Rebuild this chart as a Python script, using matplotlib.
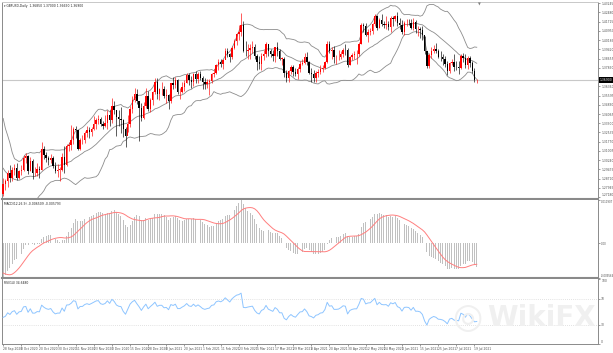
import numpy as np
import pandas as pd
import matplotlib
matplotlib.use('Agg')
import matplotlib.pyplot as plt
import matplotlib.transforms as mtransforms

# GBPUSD daily
# closes before the first visible bar (needed by the indicators only)
warmup_close = [1.3055, 1.3045, 1.3050, 1.3100, 1.3085, 1.3120, 1.3240, 1.3090, 1.3220, 1.3090,
                1.3085, 1.3125, 1.3215, 1.3240, 1.3350, 1.3370, 1.3415, 1.3285, 1.3260, 1.3275,
                1.3165, 1.2975, 1.2995, 1.2795, 1.2795, 1.2850, 1.2900, 1.2955, 1.2960, 1.2920,
                1.2815, 1.2730, 1.2725, 1.2750, 1.2745]

# visible bars: 28 Sep 2020 .. 20 Jul 2021
close = [1.2830, 1.2850, 1.2920, 1.2880, 1.2940, 1.2960, 1.2880, 1.2930, 1.2940, 1.3045,
         1.3055, 1.2935, 1.3020, 1.2915, 1.2915, 1.2950, 1.2945, 1.3115, 1.3070, 1.3040,
         1.3025, 1.3045, 1.2975, 1.2930, 1.2945, 1.2945, 1.3050, 1.2985, 1.3145, 1.3150,
         1.3195, 1.3280, 1.3270, 1.3120, 1.3190, 1.3190, 1.3245, 1.3270, 1.3255, 1.3285,
         1.3320, 1.3355, 1.3365, 1.3320, 1.3310, 1.3330, 1.3395, 1.3360, 1.3470, 1.3440,
         1.3385, 1.3365, 1.3360, 1.3280, 1.3225, 1.3320, 1.3450, 1.3525, 1.3575, 1.3515,
         1.3455, 1.3375, 1.3470, 1.3555, 1.3450, 1.3520, 1.3585, 1.3670,
         1.3575, 1.3610, 1.3610, 1.3555, 1.3565, 1.3515, 1.3665, 1.3645, 1.3685, 1.3590,
         1.3590, 1.3630, 1.3665, 1.3730, 1.3685, 1.3675, 1.3735, 1.3695, 1.3735, 1.3705,
         1.3670, 1.3655, 1.3670, 1.3680, 1.3735, 1.3745, 1.3815, 1.3835, 1.3825, 1.3855,
         1.3925, 1.3900, 1.3875, 1.3955, 1.4015, 1.4070, 1.4090, 1.4145, 1.3930, 1.3925,
         1.3940, 1.3950, 1.3960, 1.3890, 1.3840, 1.3820, 1.3885, 1.3905, 1.3990, 1.3925,
         1.3905, 1.3885, 1.3960, 1.3930, 1.3865, 1.3865, 1.3745, 1.3705, 1.3760, 1.3795,
         1.3755, 1.3735, 1.3780, 1.3825, 1.3830, 1.3880, 1.3835, 1.3750, 1.3735, 1.3705,
         1.3745, 1.3755, 1.3780, 1.3785, 1.3835, 1.3985, 1.3925, 1.3935, 1.3875, 1.3875,
         1.3880, 1.3905, 1.3940, 1.3935, 1.3815, 1.3875, 1.3895, 1.3905, 1.3905, 1.3990,
         1.4145, 1.4135, 1.4065, 1.4090, 1.4095, 1.4150, 1.4215, 1.4120, 1.4185, 1.4150,
         1.4145, 1.4150, 1.4125, 1.4205, 1.4190, 1.4220, 1.4160, 1.4145, 1.4090, 1.4160,
         1.4165, 1.4160, 1.4120, 1.4170, 1.4110, 1.4110, 1.4100, 1.4060, 1.3925, 1.3805,
         1.3895, 1.3925, 1.3945, 1.3925, 1.3880, 1.3875, 1.3860, 1.3825, 1.3765, 1.3830,
         1.3840, 1.3800, 1.3795, 1.3785, 1.3890, 1.3870, 1.3815, 1.3870, 1.3830, 1.3760,
         1.3685, 1.3690]

high = [1.2875, 1.2870, 1.2945, 1.2980, 1.2965, 1.2990, 1.3000, 1.2945, 1.2985, 1.3065,
        1.3080, 1.3070, 1.3050, 1.3030, 1.2965, 1.3000, 1.2975, 1.3175, 1.3140, 1.3095,
        1.3060, 1.3075, 1.3060, 1.3005, 1.2990, 1.2965, 1.3085, 1.3140, 1.3160, 1.3175,
        1.3315, 1.3295, 1.3310, 1.3270, 1.3205, 1.3230, 1.3265, 1.3310, 1.3295, 1.3295,
        1.3390, 1.3375, 1.3395, 1.3380, 1.3350, 1.3395, 1.3440, 1.3440, 1.3540, 1.3515,
        1.3430, 1.3440, 1.3465, 1.3365, 1.3300, 1.3395, 1.3470, 1.3555, 1.3625, 1.3610,
        1.3515, 1.3495, 1.3505, 1.3625, 1.3595, 1.3540, 1.3600, 1.3705,
        1.3705, 1.3625, 1.3670, 1.3640, 1.3615, 1.3575, 1.3665, 1.3710, 1.3710, 1.3695,
        1.3620, 1.3670, 1.3690, 1.3745, 1.3745, 1.3720, 1.3745, 1.3760, 1.3755, 1.3760,
        1.3720, 1.3705, 1.3695, 1.3700, 1.3750, 1.3780, 1.3825, 1.3865, 1.3865, 1.3865,
        1.3955, 1.3950, 1.3915, 1.3970, 1.4030, 1.4080, 1.4145, 1.4240, 1.4180, 1.4015,
        1.3990, 1.3990, 1.4010, 1.3985, 1.3905, 1.3885, 1.3915, 1.3935, 1.4000, 1.3990,
        1.3945, 1.3935, 1.3965, 1.4005, 1.3945, 1.3875, 1.3880, 1.3770, 1.3775, 1.3810,
        1.3815, 1.3790, 1.3800, 1.3850, 1.3860, 1.3910, 1.3920, 1.3850, 1.3790, 1.3770,
        1.3765, 1.3780, 1.3810, 1.3815, 1.3845, 1.4010, 1.4010, 1.3960, 1.3970, 1.3895,
        1.3935, 1.3925, 1.3955, 1.3985, 1.3950, 1.3890, 1.3915, 1.3925, 1.3935, 1.4005,
        1.4165, 1.4165, 1.4160, 1.4110, 1.4120, 1.4160, 1.4235, 1.4230, 1.4200, 1.4235,
        1.4175, 1.4215, 1.4175, 1.4215, 1.4220, 1.4225, 1.4250, 1.4200, 1.4185, 1.4175,
        1.4190, 1.4195, 1.4190, 1.4200, 1.4185, 1.4135, 1.4130, 1.4140, 1.4055, 1.3925,
        1.3915, 1.3960, 1.3975, 1.3995, 1.3945, 1.3925, 1.3905, 1.3885, 1.3850, 1.3840,
        1.3860, 1.3900, 1.3850, 1.3850, 1.3900, 1.3910, 1.3900, 1.3885, 1.3885, 1.3845,
        1.3785, 1.3700]

low = [1.2730, 1.2780, 1.2805, 1.2845, 1.2850, 1.2905, 1.2860, 1.2865, 1.2905, 1.2935,
       1.3000, 1.2910, 1.2935, 1.2865, 1.2890, 1.2895, 1.2875, 1.2940, 1.3035, 1.3005,
       1.2985, 1.3000, 1.2960, 1.2915, 1.2885, 1.2855, 1.2935, 1.2915, 1.2975, 1.3100,
       1.3110, 1.3160, 1.3205, 1.3110, 1.3105, 1.3155, 1.3165, 1.3215, 1.3205, 1.3225,
       1.3270, 1.3285, 1.3320, 1.3305, 1.3285, 1.3300, 1.3285, 1.3310, 1.3330, 1.3405,
       1.3225, 1.3305, 1.3250, 1.3220, 1.3135, 1.3260, 1.3300, 1.3415, 1.3505, 1.3490,
       1.3185, 1.3345, 1.3365, 1.3455, 1.3430, 1.3420, 1.3485, 1.3570,
       1.3530, 1.3520, 1.3565, 1.3540, 1.3500, 1.3450, 1.3500, 1.3615, 1.3620, 1.3575,
       1.3535, 1.3580, 1.3600, 1.3665, 1.3650, 1.3625, 1.3640, 1.3660, 1.3665, 1.3690,
       1.3610, 1.3610, 1.3620, 1.3565, 1.3660, 1.3710, 1.3735, 1.3775, 1.3800, 1.3780,
       1.3860, 1.3880, 1.3835, 1.3860, 1.3945, 1.3980, 1.4020, 1.4050, 1.3920, 1.3890,
       1.3860, 1.3860, 1.3910, 1.3860, 1.3775, 1.3780, 1.3775, 1.3855, 1.3880, 1.3885,
       1.3880, 1.3850, 1.3835, 1.3890, 1.3855, 1.3810, 1.3715, 1.3670, 1.3670, 1.3735,
       1.3720, 1.3720, 1.3700, 1.3755, 1.3810, 1.3825, 1.3810, 1.3740, 1.3670, 1.3670,
       1.3670, 1.3715, 1.3740, 1.3755, 1.3780, 1.3830, 1.3910, 1.3865, 1.3830, 1.3820,
       1.3855, 1.3860, 1.3880, 1.3895, 1.3800, 1.3815, 1.3855, 1.3860, 1.3825, 1.3890,
       1.3985, 1.4085, 1.4050, 1.4000, 1.4060, 1.4070, 1.4135, 1.4100, 1.4120, 1.4135,
       1.4120, 1.4110, 1.4100, 1.4090, 1.4135, 1.4175, 1.4140, 1.4110, 1.4070, 1.4065,
       1.4140, 1.4145, 1.4115, 1.4105, 1.4075, 1.4055, 1.4040, 1.4020, 1.3905, 1.3790,
       1.3790, 1.3870, 1.3915, 1.3910, 1.3870, 1.3850, 1.3810, 1.3795, 1.3730, 1.3750,
       1.3815, 1.3760, 1.3770, 1.3735, 1.3780, 1.3840, 1.3785, 1.3780, 1.3800, 1.3750,
       1.3670, 1.3665]

price_ticks = [1.27180, 1.27945, 1.28710, 1.29475, 1.30240, 1.31005, 1.31770, 1.32535,
               1.33300, 1.34065, 1.34830, 1.35595, 1.36360, 1.37125, 1.37890, 1.38655,
               1.39420, 1.40185, 1.40950, 1.41715, 1.42480, 1.43245]
rsi_ticks = [100, 70, 30, 0]

# trading days (broker has no bars on 25 Dec and 1 Jan)
dates = pd.bdate_range('2020-09-28', '2021-07-20')
dates = dates[~dates.isin(pd.to_datetime(['2020-12-25', '2021-01-01']))]
date_labels = [f"{d.day} {d.strftime('%b %Y')}" for d in dates[::8]]

# indicators on the whole series, then keep the visible part
n_warm = len(warmup_close)
s = pd.Series(warmup_close + close)
mid = s.rolling(20).mean()
sd = s.rolling(20).std(ddof=0)
upper = mid + 2 * sd
lower = mid - 2 * sd
macd = s.ewm(span=12, adjust=False).mean() - s.ewm(span=26, adjust=False).mean()
signal = macd.rolling(9).mean()
delta = s.diff()
gain = delta.clip(lower=0).ewm(alpha=1 / 14, adjust=False).mean()
loss = (-delta.clip(upper=0)).ewm(alpha=1 / 14, adjust=False).mean()
rsi = 100 - 100 / (1 + gain / loss)

mid, upper, lower = mid[n_warm:].values, upper[n_warm:].values, lower[n_warm:].values
macd, signal, rsi = macd[n_warm:].values, signal[n_warm:].values, rsi[n_warm:].values

c = np.array(close)
o = np.array([warmup_close[-1]] + close[:-1])
h = np.array(high)
l = np.array(low)
x = np.arange(len(c))
up = c >= o

fig = plt.figure(figsize=(6.13, 3.53), dpi=100)
fig.patch.set_facecolor('white')
W, H = 613.0, 353.0
ax1 = fig.add_axes([2 / W, 1 - 199 / H, 596 / W, 197 / H])
ax2 = fig.add_axes([2 / W, 1 - 278 / H, 596 / W, 78 / H])
ax3 = fig.add_axes([2 / W, 1 - 344 / H, 596 / W, 65 / H])

xmin, xmax = -0.5, 262.5
fs = 2.2
for ax in (ax1, ax2, ax3):
    ax.set_xlim(xmin, xmax)
    ax.yaxis.tick_right()
    ax.tick_params(axis='y', labelsize=fs, length=1.5, width=0.4, pad=0.8, colors='#505050')
    ax.tick_params(axis='x', length=0)
    ax.set_xticks([])
    for sp in ax.spines.values():
        sp.set_color('#8a8a8a')
        sp.set_linewidth(0.7)
ax1.spines['bottom'].set_linewidth(1.5)
ax2.spines['bottom'].set_linewidth(1.5)
ax2.spines['top'].set_visible(False)
ax3.spines['top'].set_visible(False)
ax1.spines['top'].set_color('#c8c8c8')

# --- price panel ---
ax1.set_ylim(1.2702, 1.4335)
ax1.set_yticks(price_ticks)
ax1.set_yticklabels([f"{v:.5f}" for v in price_ticks])
ax1.get_yticklabels()[0].set_va('bottom')
# the current-price box sits on top of the nearest scale label
near = int(np.argmin(np.abs(np.array(price_ticks) - c[-1])))
ax1.get_yticklabels()[near].set_visible(False)
ax1.axhline(c[-1], color='#c8c8c8', lw=0.8, zorder=1)
ax1.plot(x, upper, color='#8c8c8c', lw=0.6, zorder=2)
ax1.plot(x, mid, color='#8c8c8c', lw=0.6, zorder=2)
ax1.plot(x, lower, color='#8c8c8c', lw=0.6, zorder=2)
col = np.where(up, '#ff0000', '#000000')
ax1.vlines(x, l, h, colors=col, lw=0.45, zorder=3)
body = np.maximum(np.abs(c - o), 0.0002)
ax1.bar(x, body, bottom=np.minimum(o, c), width=0.62, color=col, linewidth=0, zorder=4)
trans = mtransforms.blended_transform_factory(ax1.transAxes, ax1.transData)
ax1.text(1.003, c[-1], f"{c[-1]:.5f}", transform=trans, fontsize=fs, color='white',
         va='center', ha='left', zorder=10, clip_on=False,
         bbox=dict(fc='black', ec='none', pad=0.6))
ax1.text(0.004, 0.988, f"\u25be GBPUSD,Daily  {o[-1]:.5f} {h[-1]:.5f} {l[-1]:.5f} {c[-1]:.5f}",
         transform=ax1.transAxes, fontsize=fs, va='top', ha='left', color='#202020')
ax1.text(477.5 / 596, 1.0, '\u25bc', transform=ax1.transAxes, fontsize=2.6,
         color='#808080', ha='center', va='top')

# --- MACD panel ---
mmin = min(np.nanmin(macd), np.nanmin(signal))
mmax = max(np.nanmax(macd), np.nanmax(signal))
ax2.set_ylim(mmin, mmax)
ax2.bar(x, macd, width=0.42, color='#c0c0c0', linewidth=0, zorder=2)
ax2.plot(x, signal, color='#ff7f7f', lw=0.7, zorder=3)
ax2.set_yticks([mmax, 0, mmin])
ax2.set_yticklabels([f"{mmax:.6f}", "0.00", f"{mmin:.6f}"])
ax2.tick_params(axis='y', labelsize=1.9)
ax2.get_yticklabels()[0].set_va('top')
ax2.get_yticklabels()[2].set_va('bottom')
ax2.text(0.004, 0.97, f"MACD(12,26,9) {macd[-1]:.6f} {signal[-1]:.6f}",
         transform=ax2.transAxes, fontsize=fs, va='top', ha='left', color='#202020')

# --- RSI panel ---
ax3.set_ylim(0, 100)
ax3.axhline(70, color='#c8c8c8', lw=0.5, ls=(0, (1, 2)), zorder=1)
ax3.axhline(30, color='#c8c8c8', lw=0.5, ls=(0, (1, 2)), zorder=1)
ax3.plot(x, rsi, color='#8ec5ff', lw=0.7, zorder=3)
ax3.set_yticks(rsi_ticks)
ax3.set_yticklabels([str(v) for v in rsi_ticks])
ax3.get_yticklabels()[0].set_va('top')
ax3.get_yticklabels()[3].set_va('bottom')
ax3.text(0.004, 0.97, f"RSI(14) {rsi[-1]:.4f}", transform=ax3.transAxes,
         fontsize=fs, va='top', ha='left', color='#202020')
ax3.set_xticks(x[::8])
ax3.set_xticklabels(date_labels)
ax3.tick_params(axis='x', labelsize=fs, length=1.5, width=0.4, pad=0.8, colors='#505050')
for t in ax3.get_xticklabels():
    t.set_ha('left')

# watermark
fig.text(541 / W, 1 - 318 / H, 'WikiFX', fontsize=20, fontweight='bold', color='#f0f0f0',
         ha='center', va='center', zorder=0)
fig.text(467 / W, 1 - 318 / H, '\u25ce', fontsize=25, color='#f0f0f0',
         ha='center', va='center', zorder=0)

fig.savefig('out.png', dpi=100, facecolor='white')
